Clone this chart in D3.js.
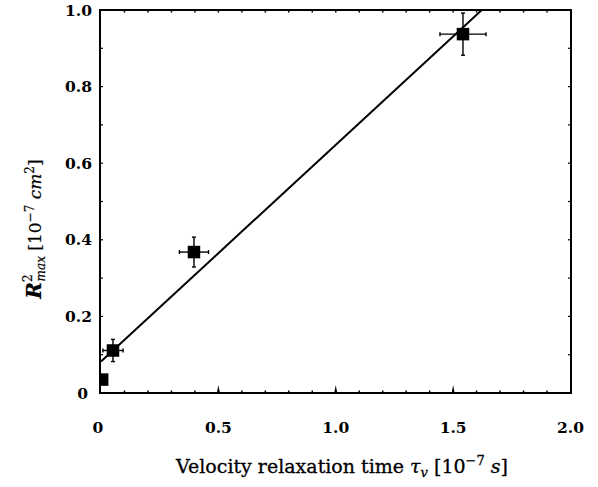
<!DOCTYPE html>
<html>
<head>
<meta charset="utf-8">
<script src="https://cdn.jsdelivr.net/npm/d3@7"></script>
<style>
  body { margin: 0; background: white; }
  text { fill: black; }
</style>
</head>
<body>
<div class="plot"></div>
<script>
// Data
const tauV = [0.005, 0.051, 0.396, 1.542]
const r2max = [0.035, 0.111, 0.368, 0.937]
const errX = [0, 0.043, 0.062, 0.098]
const errY = [0, 0.029, 0.039, 0.055]
const fitX = [0, 1.622]
const fitY = [0.082, 1.0]
const xTicks = [0, 0.5, 1.0, 1.5, 2.0]
const xTickLabels = ['0', '0.5', '1.0', '1.5', '2.0']
const yTicks = [0, 0.2, 0.4, 0.6, 0.8, 1.0]
const yTickLabels = ['0', '0.2', '0.4', '0.6', '0.8', '1.0']
const minorTicks = d3.range(0, 21).map(i => i / 10)

const width = 598
const height = 487
const pLeft = 100, pRight = 571, pTop = 10, pBottom = 393

let svg = d3.select('.plot')
    .append('svg')
    .attr('width', width)
    .attr('height', height)

let x = d3.scaleLinear().domain([0, 2]).range([101, 570.5])
let y = d3.scaleLinear().domain([0, 1]).range([pBottom, pTop])

svg.append('clipPath')
    .attr('id', 'clip')
    .append('rect')
    .attr('x', pLeft).attr('y', pTop)
    .attr('width', pRight - pLeft).attr('height', pBottom - pTop)

// minor ticks on all four sides
svg.append('g').selectAll('line')
    .data(minorTicks.filter(d => d > 0 && d < 2))
    .enter().append('line')
    .attr('x1', d => x(d)).attr('x2', d => x(d))
    .attr('y1', pBottom).attr('y2', pBottom - 2.5)
    .attr('stroke', 'black').attr('stroke-width', 1.5)

svg.append('g').selectAll('line')
    .data(minorTicks.filter(d => d > 0 && d < 2))
    .enter().append('line')
    .attr('x1', d => x(d)).attr('x2', d => x(d))
    .attr('y1', pTop).attr('y2', pTop + 2.5)
    .attr('stroke', 'black').attr('stroke-width', 1.5)

svg.append('g').selectAll('line')
    .data(minorTicks.filter(d => d > 0 && d < 1))
    .enter().append('line')
    .attr('x1', pLeft).attr('x2', pLeft + 3)
    .attr('y1', d => y(d)).attr('y2', d => y(d))
    .attr('stroke', 'black').attr('stroke-width', 1.2)

svg.append('g').selectAll('line')
    .data(minorTicks.filter(d => d > 0 && d < 1))
    .enter().append('line')
    .attr('x1', pRight).attr('x2', pRight - 3)
    .attr('y1', d => y(d)).attr('y2', d => y(d))
    .attr('stroke', 'black').attr('stroke-width', 1.2)

// bigger spikes at the labelled x ticks
svg.append('g').selectAll('path')
    .data(xTicks.filter(d => d > 0 && d < 2))
    .enter().append('path')
    .attr('d', d => 'M' + (x(d) - 1.5) + ',' + pBottom + 'L' + x(d) + ',' + (pBottom - 8) + 'L' + (x(d) + 1.5) + ',' + pBottom + 'Z')
    .attr('fill', 'black')

// frame
svg.append('rect')
    .attr('x', pLeft).attr('y', pTop)
    .attr('width', pRight - pLeft).attr('height', pBottom - pTop)
    .attr('fill', 'none')
    .attr('stroke', 'black')
    .attr('stroke-width', 2)

// tick labels
svg.append('g').selectAll('text')
    .data(xTicks)
    .enter().append('text')
    .attr('x', d => x(d) - (d === 0 ? 3 : 0))
    .attr('y', 433)
    .attr('text-anchor', 'middle')
    .attr('font-family', 'DejaVu Serif')
    .attr('font-weight', 'bold')
    .attr('font-size', 15.5)
    .text((d, i) => xTickLabels[i])

svg.append('g').selectAll('text')
    .data(yTicks)
    .enter().append('text')
    .attr('x', d => d === 0 ? 88 : 92)
    .attr('y', d => y(d) + 5.5)
    .attr('text-anchor', 'end')
    .attr('font-family', 'DejaVu Serif')
    .attr('font-weight', 'bold')
    .attr('font-size', 15.5)
    .text((d, i) => yTickLabels[i])

let plot = svg.append('g').attr('clip-path', 'url(#clip)')

// fitted line
plot.append('line')
    .attr('x1', x(fitX[0])).attr('y1', y(fitY[0]))
    .attr('x2', x(fitX[1])).attr('y2', y(fitY[1]))
    .attr('stroke', 'black')
    .attr('stroke-width', 2)

let pts = tauV.map((d, i) => ({x: d, y: r2max[i], ex: errX[i], ey: errY[i]}))

// error bars
let bars = plot.append('g')
    .selectAll('g')
    .data(pts.filter(d => d.ex > 0))
    .enter().append('g')
    .attr('stroke', 'black')
    .attr('stroke-width', 1.4)

bars.append('line')
    .attr('x1', d => x(d.x - d.ex)).attr('x2', d => x(d.x + d.ex))
    .attr('y1', d => y(d.y)).attr('y2', d => y(d.y))
bars.append('line')
    .attr('x1', d => x(d.x)).attr('x2', d => x(d.x))
    .attr('y1', d => y(d.y - d.ey)).attr('y2', d => y(d.y + d.ey))
bars.append('line')
    .attr('x1', d => x(d.x - d.ex)).attr('x2', d => x(d.x - d.ex))
    .attr('y1', d => y(d.y) - 2).attr('y2', d => y(d.y) + 2)
bars.append('line')
    .attr('x1', d => x(d.x + d.ex)).attr('x2', d => x(d.x + d.ex))
    .attr('y1', d => y(d.y) - 2).attr('y2', d => y(d.y) + 2)
bars.append('line')
    .attr('x1', d => x(d.x) - 2).attr('x2', d => x(d.x) + 2)
    .attr('y1', d => y(d.y - d.ey)).attr('y2', d => y(d.y - d.ey))
bars.append('line')
    .attr('x1', d => x(d.x) - 2).attr('x2', d => x(d.x) + 2)
    .attr('y1', d => y(d.y + d.ey)).attr('y2', d => y(d.y + d.ey))

// squares
const sq = 12.5
plot.append('g').selectAll('rect')
    .data(pts)
    .enter().append('rect')
    .attr('x', d => x(d.x) - sq / 2)
    .attr('y', d => y(d.y) - sq / 2)
    .attr('width', sq)
    .attr('height', sq)
    .attr('fill', 'black')

// axis titles
let xt = svg.append('text')
    .attr('x', 342)
    .attr('y', 473)
    .attr('text-anchor', 'middle')
    .attr('font-family', 'DejaVu Serif')
    .attr('font-size', 19)
    .attr('stroke', 'black')
    .attr('stroke-width', 0.3)
xt.append('tspan').text('Velocity relaxation time ')
xt.append('tspan').attr('font-style', 'italic').text('τ')
xt.append('tspan').attr('font-style', 'italic').attr('font-size', 13).attr('dy', 4).text('v')
xt.append('tspan').attr('dy', -4).text(' [10')
xt.append('tspan').attr('font-size', 13).attr('dy', -8).text('−7')
xt.append('tspan').attr('dy', 8).attr('font-style', 'italic').text(' s')
xt.append('tspan').text(']')

let yt = svg.append('text')
    .attr('transform', 'translate(41,229) rotate(-90)')
    .attr('text-anchor', 'middle')
    .attr('font-family', 'DejaVu Serif')
    .attr('font-size', 17)
    .attr('stroke', 'black')
    .attr('stroke-width', 0.2)
yt.append('tspan').attr('font-style', 'italic').attr('font-weight', 'bold').attr('font-size', 20).text('R')
yt.append('tspan').attr('font-size', 12).attr('dy', -9).text('2')
yt.append('tspan').attr('font-size', 12).attr('font-style', 'italic').attr('dx', -7).attr('dy', 13).text('max')
yt.append('tspan').attr('dy', -4).text(' [10')
yt.append('tspan').attr('font-size', 12).attr('dy', -7).text('−7')
yt.append('tspan').attr('dy', 7).attr('font-style', 'italic').text(' cm')
yt.append('tspan').attr('font-size', 12).attr('dy', -7).text('2')
yt.append('tspan').attr('dy', 7).text(']')
</script>
</body>
</html>
